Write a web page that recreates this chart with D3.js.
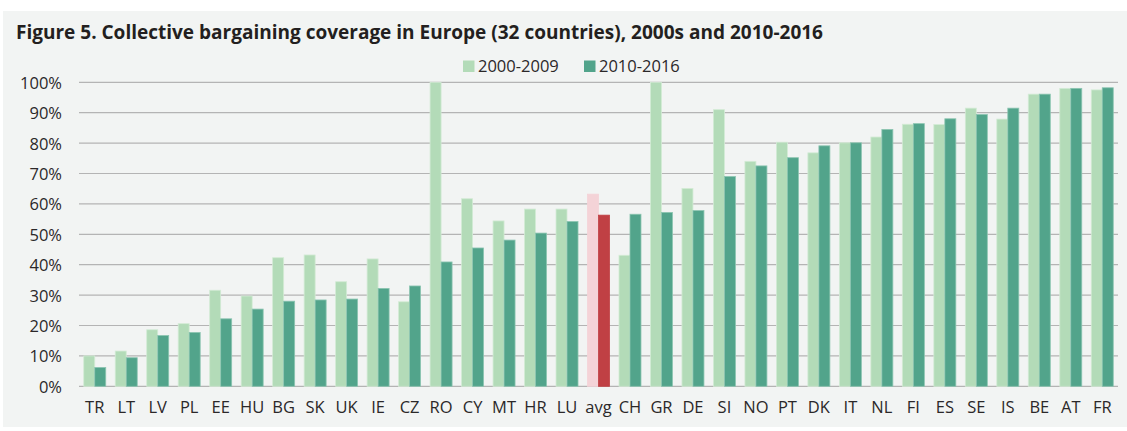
<!DOCTYPE html>
<html>
<head>
<meta charset="utf-8">
<script src="https://cdn.jsdelivr.net/npm/d3@7"></script>
<style>
  body { margin: 0; background: #ffffff; }
  text { font-family: "Open Sans", sans-serif; fill: #231f20; }
</style>
</head>
<body>
<div id="chart"></div>
<script>
// Geometry
var width = 1127,
    height = 431;

var margin = {top: 82.3, right: 9, bottom: 45, left: 79};

// Data
var countries = ['TR','LT','LV','PL','EE','HU','BG','SK','UK','IE','CZ','RO','CY','MT','HR','LU','avg',
                 'CH','GR','DE','SI','NO','PT','DK','IT','NL','FI','ES','SE','IS','BE','AT','FR'];
var cov2000s = [10.0, 11.6, 18.6, 20.6, 31.6, 29.7, 42.3, 43.2, 34.4, 41.9, 27.8, 100, 61.7, 54.4, 58.3, 58.3, 63.2,
                43.1, 100, 65.1, 91.0, 74.0, 80.3, 76.8, 80.1, 82.0, 86.2, 86.1, 91.5, 87.9, 96.1, 98.0, 97.5];
var cov2010s = [6.2, 9.4, 16.7, 17.7, 22.2, 25.4, 28.0, 28.4, 28.7, 32.2, 33.0, 40.9, 45.5, 48.1, 50.4, 54.2, 56.3,
                56.6, 57.2, 57.8, 69.0, 72.5, 75.2, 79.1, 80.1, 84.5, 86.4, 88.0, 89.4, 91.5, 96.1, 98.0, 98.2];
var yTicks = [0, 10, 20, 30, 40, 50, 60, 70, 80, 90, 100];
var seriesNames = ['2000-2009', '2010-2016'];

var svg = d3.select('#chart').append('svg')
    .attr('width', width)
    .attr('height', height);

// Panel background
svg.append('rect')
    .attr('x', 3).attr('y', 11)
    .attr('width', width - 3).attr('height', 416)
    .attr('fill', '#f2f4f3');

// Title
svg.append('text')
    .attr('x', 16).attr('y', 38.5)
    .style('font-size', '19px')
    .style('font-weight', 'bold')
    .attr('textLength', 807)
    .attr('lengthAdjust', 'spacingAndGlyphs')
    .text('Figure 5. Collective bargaining coverage in Europe (32 countries), 2000s and 2010-2016');

// Scales
var x = d3.scaleBand()
    .domain(countries)
    .range([margin.left, width - margin.right])
    .paddingInner(0)
    .paddingOuter(0);

var y = d3.scaleLinear()
    .domain([0, 100])
    .range([386.3, margin.top]);

var barW = 11;

// Grid lines
svg.append('g').selectAll('line')
  .data(yTicks)
  .enter().append('line')
    .attr('x1', margin.left)
    .attr('x2', width - margin.right)
    .attr('y1', function(d) { return y(d); })
    .attr('y2', function(d) { return y(d); })
    .attr('stroke', '#b4b4b4')
    .attr('stroke-width', 1.2);

// Y axis labels
var yAxis = d3.axisLeft(y)
    .tickValues(yTicks)
    .tickSize(0)
    .tickPadding(0)
    .tickFormat(function(d) { return d + '%'; });

var yg = svg.append('g')
    .attr('transform', 'translate(62,0)')
    .call(yAxis);
yg.select('.domain').remove();
yg.selectAll('text')
    .style('font-size', '16.5px')
    .style('fill', '#2b2829')
    .attr('dy', '0.36em');

// Bars
function lightColor(d) { return d == 'avg' ? '#f4d3d7' : '#b3dbb8'; }
function darkColor(d)  { return d == 'avg' ? '#c04044' : '#52a48b'; }

var groups = svg.append('g').selectAll('g')
  .data(countries)
  .enter().append('g');

groups.append('rect')
    .attr('x', function(d) { return x(d) + x.bandwidth() / 2 - barW; })
    .attr('y', function(d, i) { return y(cov2000s[i]); })
    .attr('width', barW)
    .attr('height', function(d, i) { return y(0) - y(cov2000s[i]); })
    .attr('fill', lightColor)
    .attr('stroke', function(d) { return d == 'avg' ? '#f4d3d7' : '#d3ebd5'; })
    .attr('stroke-width', 0.8);

groups.append('rect')
    .attr('x', function(d) { return x(d) + x.bandwidth() / 2; })
    .attr('y', function(d, i) { return y(cov2010s[i]); })
    .attr('width', barW)
    .attr('height', function(d, i) { return y(0) - y(cov2010s[i]); })
    .attr('fill', darkColor)
    .attr('stroke', function(d) { return d == 'avg' ? '#c04044' : '#8cc5b1'; })
    .attr('stroke-width', 0.8);

// X axis labels
var xAxis = d3.axisBottom(x).tickSize(0).tickPadding(0);
var xg = svg.append('g')
    .attr('transform', 'translate(0,400)')
    .call(xAxis);
xg.select('.domain').remove();
xg.selectAll('text')
    .style('font-size', '16.5px')
    .style('fill', '#2b2829')
    .attr('dy', '0.8em');

// Legend
var legendX = [463, 584];
var legendColors = ['#b3dbb8', '#52a48b'];
var legend = svg.append('g').selectAll('g')
  .data(seriesNames)
  .enter().append('g')
    .attr('transform', function(d, i) { return 'translate(' + legendX[i] + ',60.5)'; });

legend.append('rect')
    .attr('width', 11.5).attr('height', 11.5)
    .attr('fill', function(d, i) { return legendColors[i]; });

legend.append('text')
    .attr('x', 15).attr('y', 11.5)
    .style('font-size', '16.5px')
    .style('fill', '#2b2829')
    .text(function(d) { return d; });
</script>
</body>
</html>
